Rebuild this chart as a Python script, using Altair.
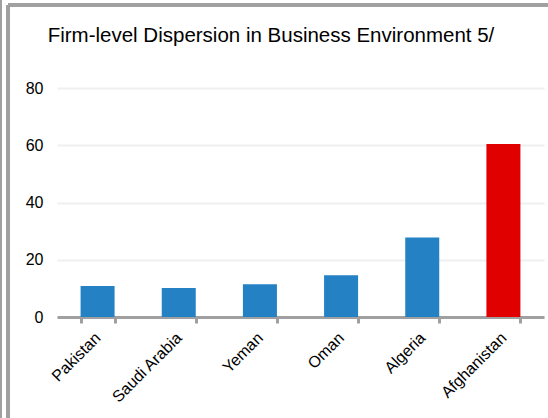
import altair as alt
import pandas as pd

countries = ["Pakistan", "Saudi Arabia", "Yeman", "Oman", "Algeria", "Afghanistan"]
values = [10.8, 10.1, 11.4, 14.6, 27.8, 60.4]
colors = ["#2381C4", "#2381C4", "#2381C4", "#2381C4", "#2381C4", "#E00000"]
y_ticks = [0, 20, 40, 60, 80]
title_text = "Firm-level Dispersion in Business Environment 5/"

df = pd.DataFrame({"country": countries, "value": values, "color": colors})

FONT = "Liberation Sans"
W, H = 487, 229
LEFT, TOP = 57, 88

base = alt.Chart(df)

bars = base.mark_bar(size=34).encode(
    x=alt.X("country:N", sort=countries,
            scale=alt.Scale(paddingInner=0.58, paddingOuter=0.29),
            axis=alt.Axis(title=None, labelAngle=-45, labelAlign="right", labelBaseline="middle",
                          labelFont=FONT, labelFontSize=16, labelColor="#000",
                          labelPadding=12, domainColor="#a0a0a0", domainWidth=3,
                          tickColor="#a0a0a0", tickWidth=3, tickSize=6, tickBand="extent",
                          grid=False)),
    y=alt.Y("value:Q", scale=alt.Scale(domain=[0, 80], nice=False),
            axis=alt.Axis(title=None, values=y_ticks, labelFont=FONT, labelFontSize=16,
                          labelColor="#000", labelPadding=14, domain=False, ticks=False,
                          grid=True, gridColor="#efefef", gridWidth=2)),
    color=alt.Color("color:N", scale=None),
)

frame_left = base.mark_rule(color="#a0a0a0", strokeWidth=3).encode(
    x=alt.value(8 - LEFT), y=alt.value(5 - TOP), y2=alt.value(418 - TOP + 10))
frame_top = base.mark_rule(color="#a0a0a0", strokeWidth=3).encode(
    x=alt.value(8 - LEFT), x2=alt.value(548 - LEFT + 10), y=alt.value(5 - TOP))
frame_outer = base.mark_rule(color="#a0a0a0", strokeWidth=2).encode(
    x=alt.value(1 - LEFT), y=alt.value(-TOP), y2=alt.value(418 - TOP + 10))

title = alt.Chart(pd.DataFrame({"t": [title_text]})).mark_text(
    font=FONT, fontSize=20.5, color="#000", align="center", baseline="alphabetic"
).encode(text="t:N", x=alt.value(271 - LEFT), y=alt.value(42 - TOP))

chart = alt.layer(bars, frame_left, frame_top, frame_outer, title).properties(
    width=W, height=H,
    autosize=alt.AutoSizeParams(type="none"),
    padding={"left": LEFT, "top": TOP, "right": 548 - LEFT - W, "bottom": 418 - TOP - H},
).configure_view(stroke=None)

chart.save("out.html", embed_options={"renderer": "svg", "actions": False})
